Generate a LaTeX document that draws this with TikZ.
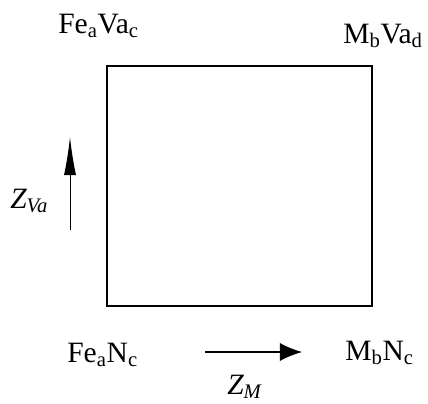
\documentclass[tikz,border=0pt]{standalone}
\usepackage{fontspec}
\setmainfont{Liberation Serif}
\usepackage{tikz}
\usetikzlibrary{arrows.meta}
\newcommand{\chemsub}[1]{\textsubscript{#1}}
\tikzset{
  frame/.style={draw=black, line width=1.4pt, minimum width=6.625cm, minimum height=6cm, inner sep=0pt},
  phase/.style={anchor=base west, inner sep=0pt, font=\fontsize{21}{24}\selectfont},
  axislabel/.style={anchor=base west, inner sep=0pt, font=\fontsize{21}{24}\selectfont\itshape},
  uparrow/.style={draw=black, line width=0.7pt, -{Latex[length=0.95cm,width=0.3cm]}},
  rightarrow/.style={draw=black, line width=0.8pt, -{Latex[length=0.55cm,width=0.45cm]}}
}

\begin{document}
\begin{tikzpicture}[x=0.025cm,y=-0.025cm]
  \path[use as bounding box] (0,0) rectangle (428,403);

  \node[frame] (square) at (239.5,186) {};

  \node[phase] (fevac) at (58,33) {Fe\chemsub{a}Va\chemsub{c}};
  \node[phase] (mbvad) at (343,43) {M\chemsub{b}Va\chemsub{d}};
  \node[phase] (fenc) at (67,362) {Fe\chemsub{a}N\chemsub{c}};
  \node[phase] (mbnc) at (345,360) {M\chemsub{b}N\chemsub{c}};

  \node[axislabel] (zva) at (10,208) {Z\chemsub{Va}};
  \node[axislabel] (zm) at (227,394) {Z\chemsub{M}};

  \coordinate (vlow) at (70,230);
  \coordinate (vhigh) at (70,137);
  \coordinate (hleft) at (205,352);
  \coordinate (hright) at (302,352);

  \draw[uparrow] (vlow) -- (vhigh);
  \draw[rightarrow] (hleft) -- (hright);
\end{tikzpicture}
\end{document}
